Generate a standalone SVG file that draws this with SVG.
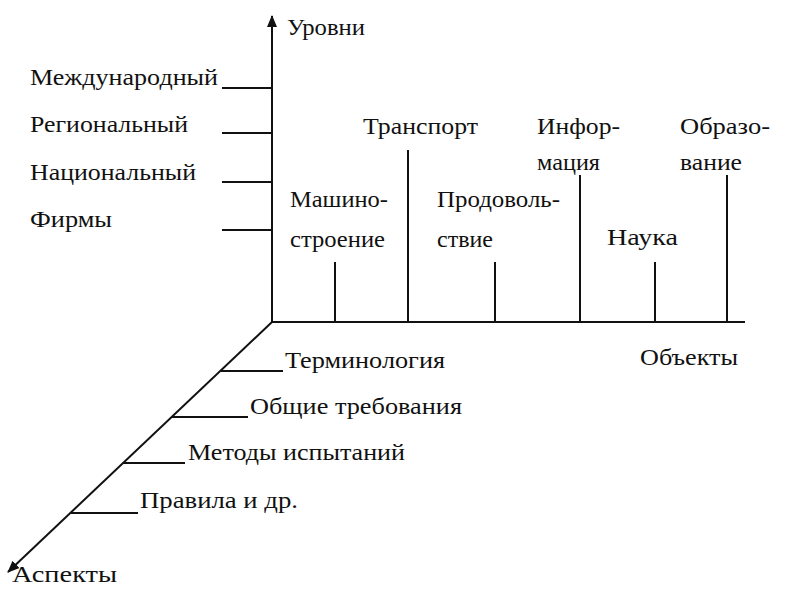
<svg xmlns="http://www.w3.org/2000/svg" width="790" height="590" viewBox="0 0 790 590">
<style>
text{font-family:"Liberation Serif","Times New Roman",serif;font-size:23px;fill:#111}
line{stroke:#111;stroke-width:2}
</style>
<defs>
<marker id="ah" markerWidth="12" markerHeight="10" refX="11" refY="5" orient="auto" markerUnits="userSpaceOnUse"><path d="M0,0 L12,5 L0,10 Z" fill="#111"/></marker>
</defs>
<rect width="790" height="590" fill="#fff"/>
<g id="connectors">
<line x1="272" y1="322" x2="272" y2="16" marker-end="url(#ah)"/>
<line x1="272" y1="322" x2="745" y2="322"/>
<line x1="272" y1="322" x2="8" y2="572" marker-end="url(#ah)"/>
<line x1="222" y1="88" x2="272" y2="88"/>
<line x1="222" y1="133" x2="272" y2="133"/>
<line x1="222" y1="182" x2="272" y2="182"/>
<line x1="222" y1="230" x2="272" y2="230"/>
<line x1="335" y1="262" x2="335" y2="322"/>
<line x1="408" y1="150" x2="408" y2="322"/>
<line x1="495" y1="262" x2="495" y2="322"/>
<line x1="580" y1="175" x2="580" y2="322"/>
<line x1="655" y1="262" x2="655" y2="322"/>
<line x1="727" y1="175" x2="727" y2="322"/>
<line x1="221" y1="371" x2="283" y2="371"/>
<line x1="172" y1="417" x2="248" y2="417"/>
<line x1="123" y1="463" x2="185" y2="463"/>
<line x1="71" y1="513" x2="138" y2="513"/>
</g>
<g id="labels">
<text x="287" y="35" textLength="78" lengthAdjust="spacingAndGlyphs">Уровни</text>
<text x="30" y="85" textLength="188" lengthAdjust="spacingAndGlyphs">Международный</text>
<text x="30" y="132" textLength="158" lengthAdjust="spacingAndGlyphs">Региональный</text>
<text x="30" y="180" textLength="166" lengthAdjust="spacingAndGlyphs">Национальный</text>
<text x="30" y="227" textLength="82" lengthAdjust="spacingAndGlyphs">Фирмы</text>
<text x="290" y="207" textLength="98" lengthAdjust="spacingAndGlyphs">Машино-</text>
<text x="290" y="247" textLength="95" lengthAdjust="spacingAndGlyphs">строение</text>
<text x="363" y="134" textLength="115" lengthAdjust="spacingAndGlyphs">Транспорт</text>
<text x="437" y="207" textLength="123" lengthAdjust="spacingAndGlyphs">Продоволь-</text>
<text x="437" y="247" textLength="56" lengthAdjust="spacingAndGlyphs">ствие</text>
<text x="537" y="134" textLength="83" lengthAdjust="spacingAndGlyphs">Инфор-</text>
<text x="537" y="170" textLength="63" lengthAdjust="spacingAndGlyphs">мация</text>
<text x="607" y="245" textLength="71" lengthAdjust="spacingAndGlyphs">Наука</text>
<text x="680" y="134" textLength="90" lengthAdjust="spacingAndGlyphs">Образо-</text>
<text x="680" y="170" textLength="62" lengthAdjust="spacingAndGlyphs">вание</text>
<text x="640" y="365" textLength="98" lengthAdjust="spacingAndGlyphs">Объекты</text>
<text x="285" y="368" textLength="160" lengthAdjust="spacingAndGlyphs">Терминология</text>
<text x="250" y="414" textLength="212" lengthAdjust="spacingAndGlyphs">Общие требования</text>
<text x="188" y="460" textLength="217" lengthAdjust="spacingAndGlyphs">Методы испытаний</text>
<text x="140" y="508" textLength="158" lengthAdjust="spacingAndGlyphs">Правила и др.</text>
<text x="12" y="582" textLength="105" lengthAdjust="spacingAndGlyphs">Аспекты</text>
</g>
</svg>
